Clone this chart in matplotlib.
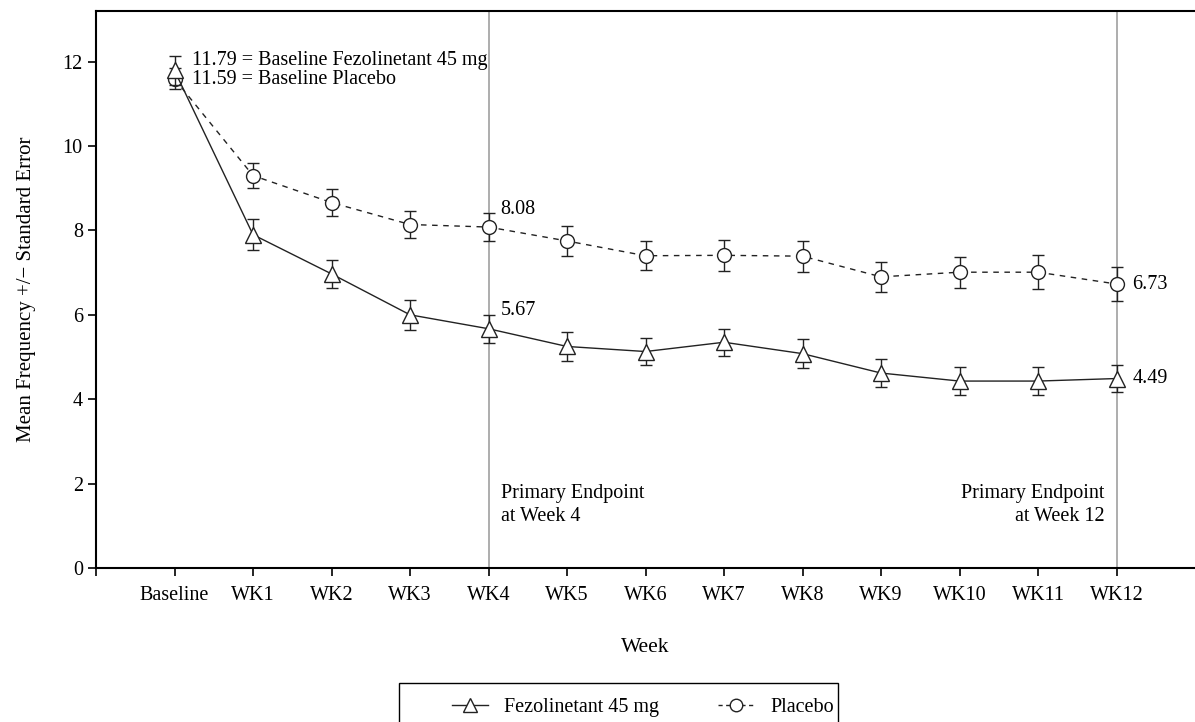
import matplotlib
matplotlib.use("Agg")
import matplotlib.pyplot as plt
from matplotlib.lines import Line2D
from matplotlib.patches import Rectangle

plt.rcParams['font.family'] = ['Liberation Serif', 'DejaVu Serif']

weeks = ['Baseline', 'WK1', 'WK2', 'WK3', 'WK4', 'WK5', 'WK6',
         'WK7', 'WK8', 'WK9', 'WK10', 'WK11', 'WK12']

fez_mean = [11.79, 7.90, 6.97, 6.00, 5.67, 5.25, 5.13, 5.35, 5.08,
            4.62, 4.43, 4.43, 4.49]
fez_se = [0.35, 0.37, 0.34, 0.35, 0.33, 0.35, 0.33, 0.32, 0.34,
          0.33, 0.33, 0.33, 0.32]

pbo_mean = [11.59, 9.30, 8.66, 8.14, 8.08, 7.75, 7.40, 7.41, 7.39,
            6.90, 7.01, 7.01, 6.73]
pbo_se = [0.25, 0.30, 0.31, 0.33, 0.33, 0.35, 0.34, 0.36, 0.37,
          0.36, 0.37, 0.40, 0.40]

x = list(range(len(weeks)))
dash = (0, (4, 4))
ink = '#222222'

fig = plt.figure(figsize=(11.95, 7.22), dpi=100)
ax = fig.add_axes([96/1195, 1 - 568/722, 1 - 96/1195, (568 - 11)/722])

# endpoint reference lines
for wk in (4, 12):
    ax.axvline(wk, color='#a0a0a0', lw=1.2, zorder=1)

ax.errorbar(x, pbo_mean, yerr=pbo_se, color=ink, ls=dash, lw=1,
            marker='o', ms=10, mfc='white', mec=ink, mew=1,
            capsize=4, elinewidth=1, capthick=1, zorder=3)
ax.errorbar(x, fez_mean, yerr=fez_se, color=ink, ls='-', lw=1,
            marker='^', ms=11, mfc='white', mec=ink, mew=1,
            capsize=4, elinewidth=1, capthick=1, zorder=4)

fs = 14.5
ax.text(0.22, 12.02, '11.79 = Baseline Fezolinetant 45 mg', fontsize=fs, va='center')
ax.text(0.22, 11.58, '11.59 = Baseline Placebo', fontsize=fs, va='center')
ax.text(4.15, 8.5, '8.08', fontsize=fs, va='center')
ax.text(4.15, 6.1, '5.67', fontsize=fs, va='center')
ax.text(12.2, 6.73, '6.73', fontsize=fs, va='center')
ax.text(12.2, 4.49, '4.49', fontsize=fs, va='center')
ax.text(4.16, 1.5, 'Primary Endpoint\nat Week 4', fontsize=fs, va='center',
        ha='left', linespacing=1.3)
ax.text(11.85, 1.5, 'Primary Endpoint\nat Week 12', fontsize=fs, va='center',
        ha='right', linespacing=1.3)

ax.set_xlim(-1, 13)
ax.set_ylim(0, 13.2)
ax.set_xticks([-1] + x)
ax.set_xticklabels([''] + weeks, fontsize=fs)
ax.set_yticks(range(0, 13, 2))
ax.tick_params(axis='both', labelsize=fs, direction='out', length=6, width=1.2)
ax.tick_params(axis='x', pad=7)
for s in ('left', 'bottom', 'top'):
    ax.spines[s].set_linewidth(1.5)
ax.spines['right'].set_visible(False)

ax.set_xlabel('Week', fontsize=15.5, labelpad=24)
ax.set_ylabel('Mean Frequency +/\u2212 Standard Error', fontsize=15, labelpad=19)

# legend: frameless entries plus an open box running past the bottom edge
handles = [Line2D([], [], color=ink, lw=1, marker='^', ms=10, mfc='white', mec=ink),
           Line2D([], [], color=ink, lw=1, ls=(0, (3, 2.5)), marker='o', ms=9,
                  mfc='white', mec=ink)]
fig.legend(handles, ['Fezolinetant 45 mg', 'Placebo'], loc='center',
           bbox_to_anchor=(643/1195, 1 - 707/722), ncol=2, fontsize=fs,
           frameon=False, handlelength=1.8, handletextpad=0.8, columnspacing=2.9)
fig.patches.append(Rectangle((399/1195, -0.05), (838 - 399)/1195, 0.05 + (722 - 683)/722,
                             transform=fig.transFigure, fill=False,
                             edgecolor='black', lw=1))

fig.savefig('out.png', dpi=100)
